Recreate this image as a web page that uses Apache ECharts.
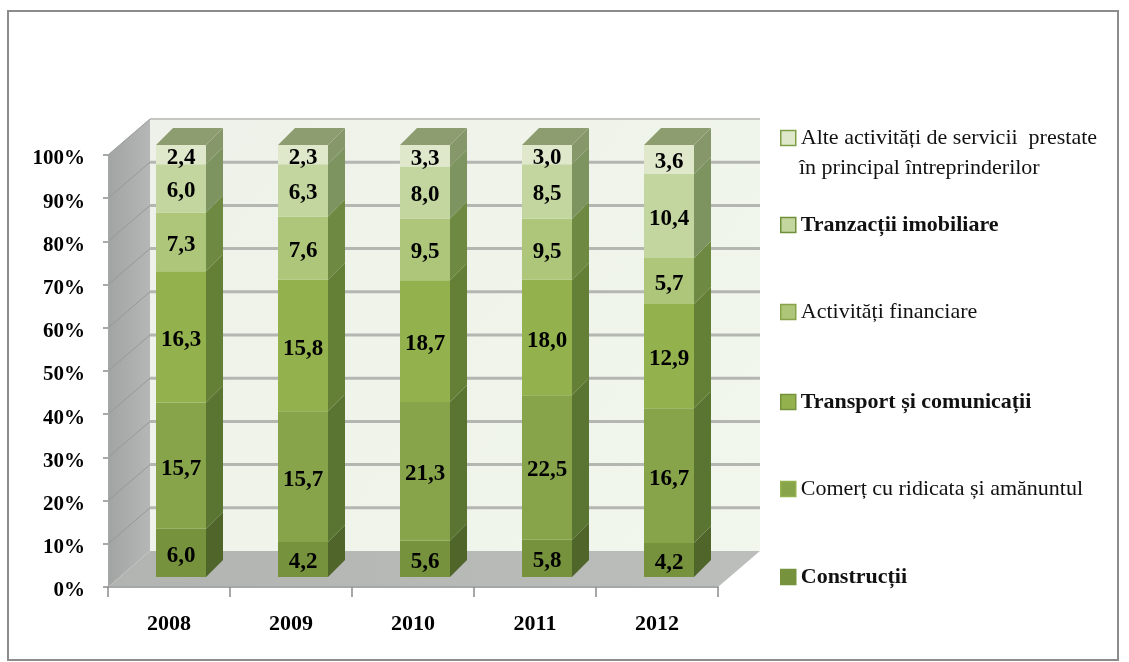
<!DOCTYPE html>
<html>
<head>
<meta charset="utf-8">
<style>html,body{margin:0;padding:0;background:#fff}#c{width:1129px;height:662px}</style>
<script src="https://cdn.jsdelivr.net/npm/echarts@6/dist/echarts.min.js"></script>
</head>
<body>
<div id="c"></div>
<script>
const categories = ['2008', '2009', '2010', '2011', '2012'];
const constructii = [6.0, 4.2, 5.6, 5.8, 4.2];
const comert = [15.7, 15.7, 21.3, 22.5, 16.7];
const transport = [16.3, 15.8, 18.7, 18.0, 12.9];
const financiare = [7.3, 7.6, 9.5, 9.5, 5.7];
const imobiliare = [6.0, 6.3, 8.0, 8.5, 10.4];
const alte = [2.4, 2.3, 3.3, 3.0, 3.6];
const seriesNames = [
  'Construcții',
  'Comerț cu ridicata și amănuntul',
  'Transport și comunicații',
  'Activități financiare',
  'Tranzacții imobiliare',
  'Alte activități de servicii  prestate'
];
const secondLine = 'în principal întreprinderilor';
const gridTicks = [10, 20, 30, 40, 50, 60, 70, 80, 90, 100];

const allValues = [constructii, comert, transport, financiare, imobiliare, alte];
const frontColors = ['#76923c', '#87a44b', '#93b24e', '#adc67a', '#c3d6a0', '#dfe8cb'];
const sideColors = ['#4f6529', '#5a7531', '#647f36', '#6e8a42', '#7d9460', '#86986a'];
const legendBorders = ['#76923c', '#93b24e', '#76923c', '#87a44b', '#6f8f38', '#7f9f45'];
const legendTops = [122, 209, 296, 386, 473, 561].reverse();
const boldFlags = [true, false, true, false, true, false];

const wallDX = 42, wallDY = -36;
const barInDX = 12, barInDY = -10, barDepthDX = 17, barDepthDY = -17;
const barWidth = 50;
const serif = '"Liberation Serif", serif';

function poly(points, fill) {
  return { type: 'polygon', shape: { points }, style: { fill, stroke: null } };
}

function renderWalls(params, api) {
  const o = api.coord(['2008', 0]);
  const t = api.coord(['2008', 100]);
  const bw = api.size([1, 0])[0];
  const xL = o[0] - bw / 2, xR = xL + bw * categories.length;
  const y0 = o[1], y1 = t[1];
  const kids = [];
  kids.push(poly([[xL, y0], [xL + wallDX, y0 + wallDY], [xL + wallDX, y1 + wallDY], [xL, y1]],
    { type: 'linear', x: 0, y: 0, x2: 1, y2: 0, colorStops: [{ offset: 0, color: '#a2a4a4' }, { offset: 1, color: '#b5b7b7' }] }));
  kids.push(poly([[xL + wallDX, y0 + wallDY], [xR + wallDX, y0 + wallDY], [xR + wallDX, y1 + wallDY], [xL + wallDX, y1 + wallDY]],
    { type: 'linear', x: 0, y: 0, x2: 1, y2: 1, colorStops: [{ offset: 0, color: '#eef1e9' }, { offset: 1, color: '#f1f7ec' }] }));
  kids.push(poly([[xL, y0], [xR, y0], [xR + wallDX, y0 + wallDY], [xL + wallDX, y0 + wallDY]],
    { type: 'linear', x: 0, y: 0, x2: 1, y2: 0, colorStops: [{ offset: 0, color: '#b2b4b2' }, { offset: 1, color: '#bcbebc' }] }));
  gridTicks.forEach(v => {
    const p = api.coord(['2008', v]);
    const y = p[1];
    kids.push({ type: 'line', shape: { x1: xL, y1: y, x2: xL + wallDX, y2: y + wallDY }, style: { stroke: '#979999', lineWidth: 1 } });
    kids.push({ type: 'line', shape: { x1: xL + wallDX, y1: y + wallDY, x2: xR + wallDX, y2: y + wallDY }, style: { stroke: v === 100 ? '#c4c6c2' : '#b4b6b2', lineWidth: v === 100 ? 2 : 3 } });
  });
  return { type: 'group', children: kids };
}

function makeRender(si) {
  return function (params, api) {
    const cat = api.value(0), lo = api.value(1), hi = api.value(2), raw = api.value(3);
    const pLo = api.coord([cat, lo]);
    const pHi = api.coord([cat, hi]);
    const x1 = pLo[0] - barWidth / 2 + barInDX, x2 = x1 + barWidth;
    const yb = pLo[1] + barInDY, yt = pHi[1] + barInDY;
    const kids = [
      poly([[x2, yb], [x2 + barDepthDX, yb + barDepthDY], [x2 + barDepthDX, yt + barDepthDY], [x2, yt]], sideColors[si]),
      poly([[x1, yb], [x2, yb], [x2, yt], [x1, yt]], frontColors[si])
    ];
    if (si === allValues.length - 1) {
      kids.push(poly([[x1, yt], [x2, yt], [x2 + barDepthDX, yt + barDepthDY], [x1 + barDepthDX, yt + barDepthDY]], '#8d9d70'));
    }
    kids.push({
      type: 'text',
      style: {
        text: raw.toFixed(1).replace('.', ','), x: (x1 + x2) / 2, y: (yb + yt) / 2 + 3,
        align: 'center', verticalAlign: 'middle', fill: '#000',
        font: 'bold 23px ' + serif
      }
    });
    return { type: 'group', children: kids };
  };
}

const stackedSeries = allValues.map((vals, si) => ({
  name: seriesNames[si],
  type: 'custom',
  z: 3,
  itemStyle: { color: frontColors[si] },
  renderItem: makeRender(si),
  encode: { x: 0, y: [1, 2] },
  data: vals.map((v, ci) => {
    const sum = allValues.reduce((a, arr) => a + arr[ci], 0);
    let below = 0;
    for (let k = 0; k < si; k++) below += allValues[k][ci];
    return [categories[ci], below / sum * 100, (below + v) / sum * 100, v];
  })
}));

const legends = seriesNames.map((n, i) => ({
  show: true,
  left: 775,
  top: legendTops[i],
  orient: 'vertical',
  selectedMode: false,
  itemWidth: 15,
  itemHeight: 15,
  icon: 'rect',
  data: [{ name: n, itemStyle: { color: frontColors[i], borderColor: legendBorders[i], borderWidth: 1.5 } }],
  textStyle: { fontFamily: serif, fontSize: 22, fontWeight: boldFlags[i] ? 'bold' : 'normal', color: '#111' }
}));

const chart = echarts.init(document.getElementById('c'), null, { renderer: 'canvas' });
chart.setOption({
  backgroundColor: '#fff',
  animation: false,
  grid: { left: 108, top: 155, width: 610, height: 432 },
  legend: legends,
  xAxis: {
    type: 'category',
    data: categories,
    z: 2,
    axisLine: { lineStyle: { color: '#a6a8a8', width: 2 } },
    axisTick: { show: true, length: 10, lineStyle: { color: '#8c8c8c', width: 1.5 } },
    axisLabel: { margin: 26, fontFamily: serif, fontSize: 22, fontWeight: 'bold', color: '#000' }
  },
  yAxis: {
    type: 'value',
    min: 0,
    max: 100,
    interval: 10,
    z: 2,
    splitLine: { show: false },
    axisLine: { show: true, lineStyle: { color: '#a6a8a8', width: 1 } },
    axisTick: { show: true, length: 5, lineStyle: { color: '#8c8c8c', width: 1.5 } },
    axisLabel: { margin: 23, formatter: '{value}%', fontFamily: serif, fontSize: 21, fontWeight: 'bold', color: '#000', verticalAlign: 'top', lineHeight: 8 }
  },
  graphic: [
    { type: 'rect', shape: { x: 8, y: 11, width: 1110, height: 649 }, style: { fill: 'none', stroke: '#8c8c8c', lineWidth: 2 }, z: -1, silent: true },
    { type: 'text', left: 799, top: 157, style: { text: secondLine, font: '22px ' + serif, fill: '#111' }, silent: true }
  ],
  series: [
    { type: 'custom', z: 1, silent: true, renderItem: renderWalls, encode: { x: 0, y: 1 }, data: [[categories[0], 0]] },
    ...stackedSeries
  ]
});
</script>
</body>
</html>
